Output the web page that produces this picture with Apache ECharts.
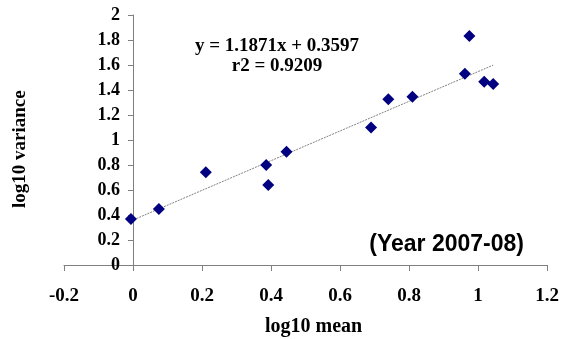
<!DOCTYPE html>
<html><head><meta charset="utf-8">
<script src="https://cdn.jsdelivr.net/npm/echarts@6/dist/echarts.min.js"></script>
<style>html,body{margin:0;padding:0;background:#fff}#c{width:571px;height:339px}</style>
</head><body><div id="c"></div>
<script>
var logMean = [-0.006, 0.075, 0.211, 0.386, 0.392, 0.445, 0.690, 0.740, 0.810, 0.962, 0.975, 1.018, 1.044];
var logVar  = [0.368, 0.448, 0.742, 0.800, 0.640, 0.906, 1.100, 1.326, 1.346, 1.530, 1.832, 1.466, 1.448];
var trendSlope = [1.1871];
var trendIntercept = [0.3597];
var rSquared = [0.9209];
var xTicks = [-0.2, 0, 0.2, 0.4, 0.6, 0.8, 1, 1.2];
var yTicks = [0, 0.2, 0.4, 0.6, 0.8, 1, 1.2, 1.4, 1.6, 1.8, 2];
var xTitle = 'log10 mean';
var yTitle = 'log10 variance';
var yearLabel = '(Year 2007-08)';

var xMin = Math.min.apply(null, logMean), xMax = Math.max.apply(null, logMean);
var trend = [[xMin, trendSlope[0]*xMin + trendIntercept[0]], [xMax, trendSlope[0]*xMax + trendIntercept[0]]];

var chart = echarts.init(document.getElementById('c'));
var serif = '"Liberation Serif", "Times New Roman", serif';
var axisColor = '#7f7f7f';
chart.setOption({
  animation: false,
  grid: {left: 64, right: 24, top: 15, bottom: 74, containLabel: false, outerBoundsMode: 'none'},
  xAxis: {
    type: 'value', min: xTicks[0], max: xTicks[xTicks.length-1], interval: 0.2,
    splitLine: {show: false},
    axisLine: {show: true, onZero: true, lineStyle: {color: axisColor, width: 1}},
    axisTick: {show: true, inside: false, length: 6, lineStyle: {color: axisColor}},
    axisLabel: {margin: 22, fontFamily: serif, fontWeight: 'bold', fontSize: 19, color: '#000',
      formatter: function(v){ return String(Math.round(v*10)/10); }}
  },
  yAxis: {
    type: 'value', min: yTicks[0], max: yTicks[yTicks.length-1], interval: 0.2,
    offset: -69,
    splitLine: {show: false},
    axisLine: {show: true, onZero: false, lineStyle: {color: axisColor, width: 1}},
    axisTick: {show: true, inside: false, length: 5, lineStyle: {color: axisColor}},
    axisLabel: {margin: 13, fontFamily: serif, fontWeight: 'bold', fontSize: 18, color: '#000',
      formatter: function(v){ return String(Math.round(v*10)/10); }}
  },
  graphic: [
    {type: 'text', left: 265, top: 317, style: {text: xTitle, font: 'bold 20px ' + serif, fill: '#000'}},
    {type: 'text', x: 11, y: 208, rotation: Math.PI/2, style: {text: yTitle, font: 'bold 19px ' + serif, fill: '#000'}},
    {type: 'text', x: 277, y: 46, style: {text: 'y = ' + trendSlope[0] + 'x + ' + trendIntercept[0], font: 'bold 19px ' + serif, fill: '#000', align: 'center', verticalAlign: 'middle'}},
    {type: 'text', x: 277, y: 66, style: {text: 'r2 = ' + rSquared[0], font: 'bold 19px ' + serif, fill: '#000', align: 'center', verticalAlign: 'middle'}},
    {type: 'text', x: 524, y: 245, style: {text: yearLabel, font: 'bold 23px "Liberation Sans", Arial, sans-serif', fill: '#000', align: 'right', verticalAlign: 'middle'}}
  ],
  series: [
    {type: 'line', data: trend, symbol: 'none', silent: true,
     lineStyle: {color: '#808080', width: 1, type: [2, 1]}, z: 1},
    {type: 'scatter', data: logMean.map(function(x, i){ return [x, logVar[i]]; }),
     symbol: 'diamond', symbolSize: 12, itemStyle: {color: '#000080', opacity: 1}, z: 3}
  ]
});
</script></body></html>
